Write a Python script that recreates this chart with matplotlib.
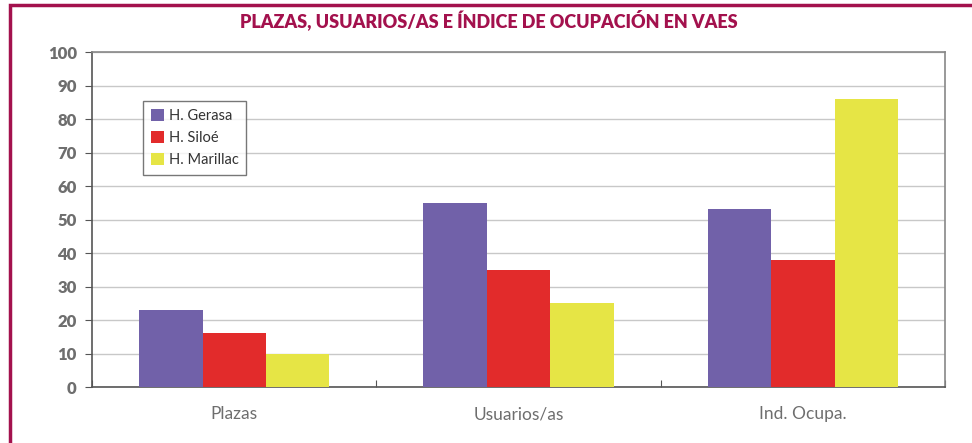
import numpy as np
import matplotlib.pyplot as plt
from matplotlib.patches import Rectangle

# data
categories = ['Plazas', 'Usuarios/as', 'Ind. Ocupa.']
series_names = ['H. Gerasa', 'H. Siloé', 'H. Marillac']
gerasa = [23, 55, 53]
siloe = [16, 35, 38]
marillac = [10, 25, 86]
colors = ['#7161A9', '#E22B2B', '#E6E545']
yticks = list(range(0, 101, 10))

plt.rcParams['font.family'] = ['Lato', 'DejaVu Sans']

fig = plt.figure(figsize=(9.72, 4.43), dpi=100)
ax = fig.add_axes([0.0947, 0.1264, 0.8776, 0.7562])

# crimson frame around the chart
fig.patches.append(Rectangle((0.0103, -0.05), 1.1, 1.0387, transform=fig.transFigure,
                             fill=False, edgecolor='#A3114D', linewidth=2.5))

x = np.arange(len(categories))
w = 0.223
for i, (vals, name) in enumerate(zip([gerasa, siloe, marillac], series_names)):
    ax.bar(x + (i - 1) * w, vals, w, color=colors[i], label=name, zorder=3)

ax.set_xlim(-0.5, 2.5)
ax.set_ylim(0, 100)
ax.set_yticks(yticks)
ax.set_yticklabels([str(t) for t in yticks], fontsize=12, fontweight='heavy', color='#6E6E6E')
ax.yaxis.grid(True, color='#C8C8C8', linewidth=1, zorder=0)

ax.set_xticks([-0.5, 0.5, 1.5, 2.5])
ax.set_xticklabels([])
ax.set_xticks(x, minor=True)
ax.set_xticklabels(categories, minor=True, fontsize=12.5, color='#6E6E6E')
ax.tick_params(axis='x', which='minor', length=0, pad=14)
ax.tick_params(axis='x', which='major', length=5, direction='in', color='#555555')
ax.tick_params(axis='y', length=5, color='#555555', pad=6)

for s in ['left', 'bottom']:
    ax.spines[s].set_color('#555555')
    ax.spines[s].set_linewidth(1.2)
for s in ['top', 'right']:
    ax.spines[s].set_color('#888888')
    ax.spines[s].set_linewidth(1.2)

leg = ax.legend(loc='upper left', bbox_to_anchor=(0.0598, 0.854), borderaxespad=0,
                fontsize=10.5, frameon=True, fancybox=False, edgecolor='#555555',
                handlelength=0.9, handleheight=0.9, handletextpad=0.3,
                labelspacing=0.55, borderpad=0.55, labelcolor='#333333')
leg.get_frame().set_linewidth(1)

fig.text(0.503, 0.955, 'PLAZAS, USUARIOS/AS E ÍNDICE DE OCUPACIÓN EN VAES',
         ha='center', va='center', fontsize=13, fontweight='heavy', color='#A3114D')

fig.savefig('out.png', dpi=100)
